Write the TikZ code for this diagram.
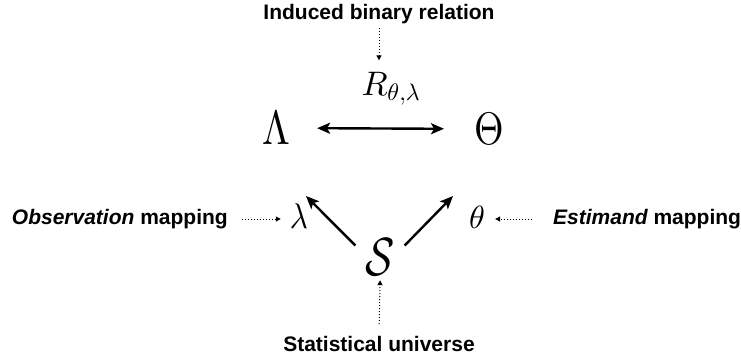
\documentclass[tikz,border=0pt]{standalone}
\usepackage{graphicx}
\usepackage{fontspec}
\newfontfamily\labelfont{Liberation Sans}
\usetikzlibrary{arrows.meta}
% scalable math at any size, from the 10pt designs
\DeclareFontShape{OT1}{cmr}{m}{n}{<-> cmr10}{}
\DeclareFontShape{OML}{cmm}{m}{it}{<-> cmmi10}{}
\DeclareFontShape{OMS}{cmsy}{m}{n}{<-> cmsy10}{}
\newcommand{\glyph}[3]{\scalebox{#1}[#2]{$#3$}}

\begin{document}
\begin{tikzpicture}[
  x=1pt, y=-1pt,
  lbl/.style={font=\labelfont\bfseries\fontsize{21}{25}\selectfont, inner sep=2pt},
  sym/.style={inner sep=2pt},
  arr/.style={-{Stealth[length=13pt, width=11pt, inset=3pt]}, line width=2.4pt},
  biarr/.style={{Stealth[length=13pt, width=11pt, inset=3pt]}-{Stealth[length=13pt, width=11pt, inset=3pt]},
                line width=2.4pt},
  dots/.style={-{Triangle[length=5pt, width=5pt]}, dotted, line width=1pt}
]
\useasboundingbox (0,0) rectangle (741,360);
\node[lbl] (rel) at (379,14) {Induced binary relation};
\node[sym, font=\fontsize{34}{38}\selectfont] (R) at (391,89) {\glyph{1}{1}{R_{\theta,\lambda}}};
\node[sym, font=\fontsize{40}{44}\selectfont] (Lam) at (276,128) {\glyph{1}{1.2}{\Lambda}};
\node[sym, font=\fontsize{38}{42}\selectfont] (Theta) at (489,129) {\glyph{1}{1.2}{\Theta}};
\node[sym, font=\fontsize{31}{34}\selectfont] (lam) at (299,216) {\glyph{1}{1.15}{\lambda}};
\node[sym, font=\fontsize{32}{35}\selectfont] (theta) at (477,217) {\glyph{1}{1}{\theta}};
\node[lbl, anchor=east] (obs) at (230,219) {{\itshape Observation} mapping};
\node[lbl, anchor=west] (est) at (551,219) {{\itshape Estimand} mapping};
\node[sym, circle, minimum size=54pt, inner sep=0pt, font=\fontsize{43}{46}\selectfont]
  (S) at (380,257) {\glyph{1}{1.25}{\mathcal{S}}};
\node[lbl] (univ) at (379,344) {Statistical universe};
\coordinate (toLam) at (306,196);
\coordinate (toTheta) at (453,196);
% Relation between the two spaces
\draw[biarr, shorten <=25pt, shorten >=28pt] (Lam) -- (Theta);
% Mappings out of the universe
\draw[arr] (S.155) -- (toLam);
\draw[arr] (S.25) -- (toTheta);
% Pointers from the captions
\draw[dots, shorten <=2pt, shorten >=10pt] (rel.south) -- (rel.south |- R.north);
\draw[dots, shorten <=12pt, shorten >=7pt] (obs.east) -- (obs.east -| lam.west);
\draw[dots, shorten <=19pt, shorten >=8pt] (est.west) -- (est.west -| theta.east);
\draw[dots, shorten <=10pt, shorten >=-4pt] (univ.north) -- (S.south);
\end{tikzpicture}
\end{document}
